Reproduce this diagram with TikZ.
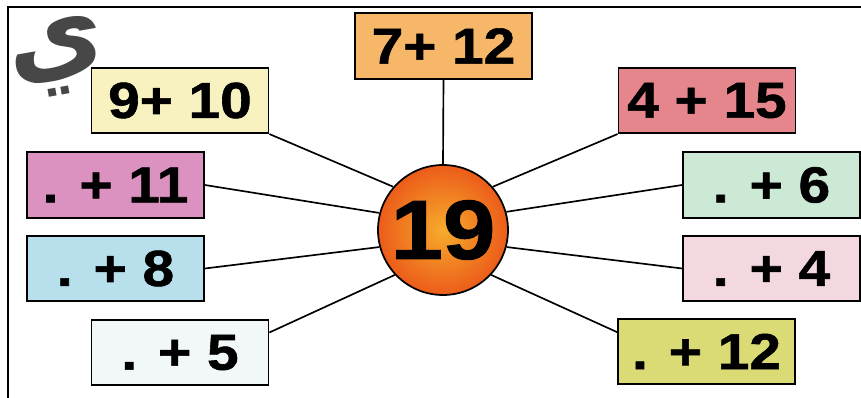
\documentclass[tikz,border=0pt]{standalone}
\usepackage{fontspec}
\setmainfont{Liberation Sans}
\newfontfamily\numfont[FakeStretch=1.12,FakeBold=1.2]{Liberation Sans Bold}
\newfontfamily\arabicfont[Script=Arabic]{DejaVu Sans}
\TeXXeTstate=1
\definecolor{cA}{RGB}{246,184,104}
\definecolor{cB}{RGB}{248,241,192}
\definecolor{cC}{RGB}{229,134,141}
\definecolor{cD}{RGB}{219,146,192}
\definecolor{cE}{RGB}{204,233,214}
\definecolor{cF}{RGB}{183,224,236}
\definecolor{cG}{RGB}{243,216,224}
\definecolor{cH}{RGB}{242,248,250}
\definecolor{cI}{RGB}{218,219,116}
\definecolor{ballin}{RGB}{246,172,44}
\definecolor{ballout}{RGB}{236,92,26}
\tikzset{
  sumbox/.style={draw=black, line width=1.3pt, minimum width=132.75pt, minimum height=49pt, inner sep=0pt,
    font=\numfont\fontsize{38}{38}\selectfont},
  ray/.style={line width=1.25pt}
}
\begin{document}
\begin{tikzpicture}[x=0.75pt,y=-0.75pt]
\useasboundingbox (0,0) rectangle (861,398);
\fill[white] (0,0) rectangle (861,398);
% frame
\draw[line width=2.2pt] (8,399) -- (8,7) -- (862,7);
% watermark letter
\node[text=black!72, font=\arabicfont\bfseries\fontsize{80}{80}\selectfont, rotate=10, inner sep=0pt] (wm) at (58,58) {\beginR ي\endR};
% centre
\node[circle, draw=black, line width=1.3pt, minimum size=97.5pt, inner sep=0pt,
  inner color=ballin, outer color=ballout,
  font=\numfont\fontsize{63}{63}\selectfont] (c) at (443,230) {19};
% boxes
\node[sumbox, fill=cA] (b1) at (443.5,46) {7+ 12};
\node[sumbox, fill=cB] (b2) at (180,100.5) {9+ 10};
\node[sumbox, fill=cC] (b3) at (707,100.5) {4 + 15};
\node[sumbox, fill=cD] (b4) at (115.5,185) {. + 11};
\node[sumbox, fill=cE] (b5) at (771.5,185) {. + 6};
\node[sumbox, fill=cF] (b6) at (115.5,268.5) {. + 8};
\node[sumbox, fill=cG] (b7) at (771.5,268.5) {. + 4};
\node[sumbox, fill=cH] (b8) at (180,352.5) {. + 5};
\node[sumbox, fill=cI] (b9) at (706.5,351.5) {. + 12};
% rays
\draw[ray] (b1.south) -- (c.north);
\draw[ray] (b2.south east) -- (c.139);
\draw[ray] (b3.south west) -- (c.41);
\draw[ray] (b4.east) -- (c.165);
\draw[ray] (b5.west) -- (c.16);
\draw[ray] (b6.east) -- (c.195);
\draw[ray] (b7.west) -- (c.-15);
\draw[ray] ([yshift=15pt]b8.east) -- (c.223);
\draw[ray] ([yshift=14.5pt]b9.west) -- (c.-43);
\end{tikzpicture}
\end{document}
